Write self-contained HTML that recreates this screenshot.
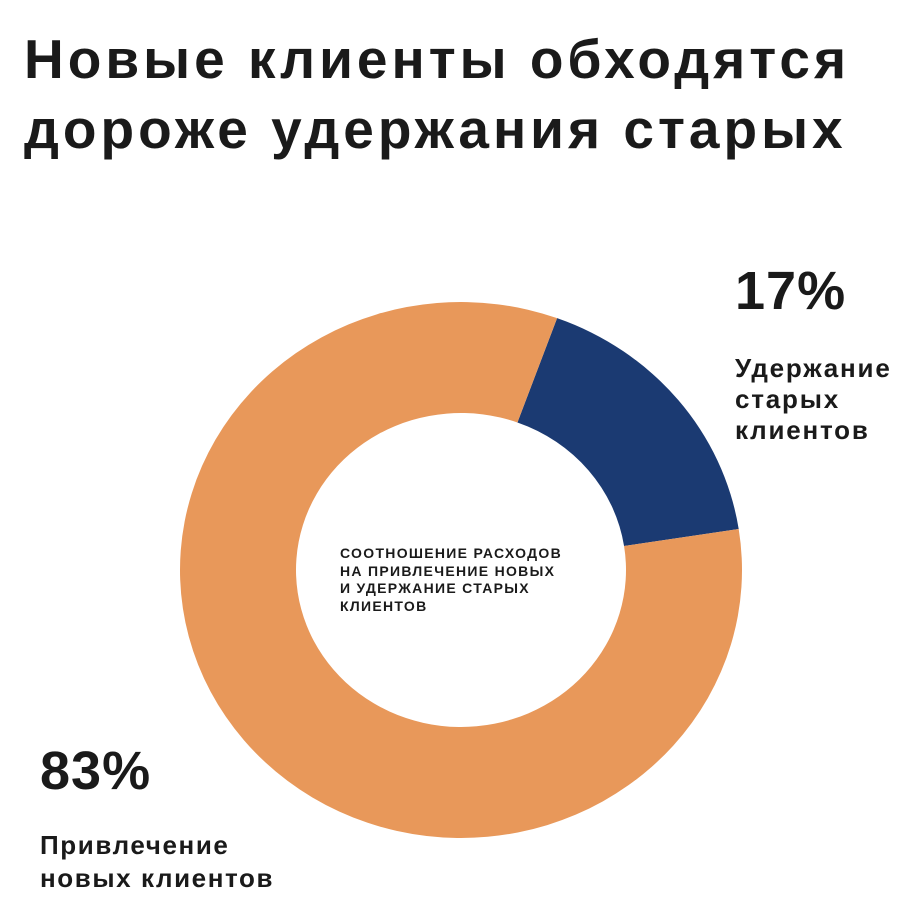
<!DOCTYPE html>
<html><head><meta charset="utf-8"><style>
body{margin:0;width:920px;height:906px;background:#fff;overflow:hidden;font-family:"Liberation Sans","Noto Sans CJK SC",sans-serif;color:#1a1a1a}
.t{position:absolute;margin:0;white-space:nowrap}
</style></head><body>
<h1 class="t" style="left:24px;top:24px;font-size:55px;line-height:70px;font-weight:700;letter-spacing:4px">Новые клиенты обходятся<br>дороже удержания старых</h1>
<svg id="c" width="920" height="906" style="position:absolute;left:0;top:0"></svg>
<div class="t" style="left:735px;top:260px;font-size:54px;font-weight:700;letter-spacing:1px">17%</div>
<div class="t" style="left:735px;top:353px;font-size:26px;line-height:31px;font-weight:700;letter-spacing:1.8px">Удержание<br>старых<br>клиентов</div>
<div class="t" style="left:40px;top:740px;font-size:54px;font-weight:700;letter-spacing:1px">83%</div>
<div class="t" style="left:40px;top:829px;font-size:26px;line-height:33px;font-weight:700;letter-spacing:1.6px">Привлечение<br>новых клиентов</div>
<div class="t" style="left:340px;top:545px;font-size:14px;line-height:17.5px;font-weight:700;letter-spacing:1.3px">СООТНОШЕНИЕ РАСХОДОВ<br>НА ПРИВЛЕЧЕНИЕ НОВЫХ<br>И УДЕРЖАНИЕ СТАРЫХ<br>КЛИЕНТОВ</div>
<script>
const categories=["Удержание старых клиентов","Привлечение новых клиентов"];
const values=[17,83];
const colors=["#1b3a72","#e8985a"];
const svg=document.getElementById('c');
const cx=461,cy=570,rx=281,ry=268,irx=165,iry=157,start=20;
const total=values.reduce((a,b)=>a+b,0);
function pt(a,x,y){const r=a*Math.PI/180;return [cx+x*Math.sin(r),cy-y*Math.cos(r)];}
let a0=start;
values.forEach((v,i)=>{
  const a1=a0+v/total*360, large=(a1-a0)>180?1:0;
  const p1=pt(a0,rx,ry),p2=pt(a1,rx,ry),p3=pt(a1,irx,iry),p4=pt(a0,irx,iry);
  const p=document.createElementNS('http://www.w3.org/2000/svg','path');
  p.setAttribute('d',`M${p1}A${rx},${ry} 0 ${large} 1 ${p2}L${p3}A${irx},${iry} 0 ${large} 0 ${p4}Z`);
  p.setAttribute('fill',colors[i]);
  
  
  svg.appendChild(p);
  a0=a1;
});
</script>
</body></html>
